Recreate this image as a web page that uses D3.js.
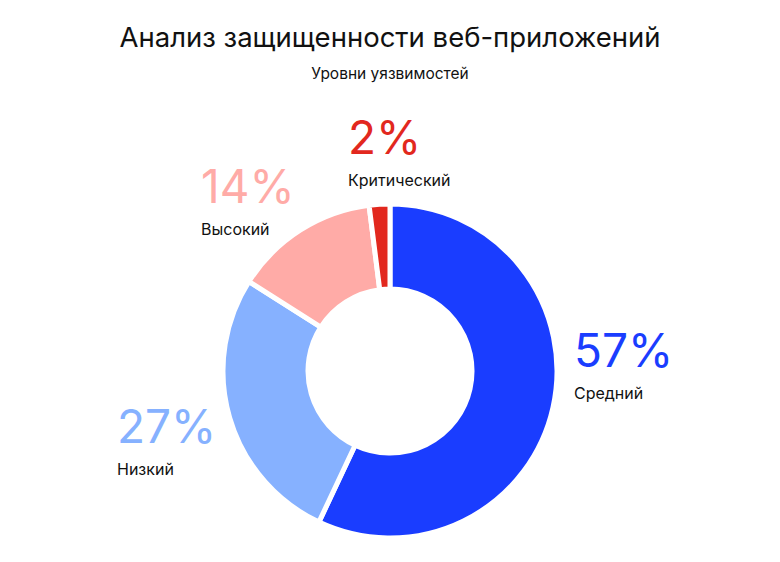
<!DOCTYPE html>
<html><head><meta charset="utf-8">
<script src="https://cdn.jsdelivr.net/npm/d3@7"></script>
<style>body{margin:0;background:#fff}svg{display:block}</style>
</head><body>
<svg id="c" width="780" height="562"></svg>
<script>
const categories = ["Средний", "Низкий", "Высокий", "Критический"];
const values = [57, 27, 14, 2];
const colors = ["#1a3dff", "#86b1ff", "#ffaba7", "#e2281e"];
const title = "Анализ защищенности веб-приложений";
const subtitle = "Уровни уязвимостей";

const svg = d3.select("#c");
const W = 780, cx = 390, cy = 371, R = 167, r = 82;
const font = "Inter, 'Noto Sans', sans-serif";

svg.append("text").attr("x", W/2).attr("y", 47).attr("text-anchor","middle")
  .attr("font-family", font).attr("font-size", 27.5).attr("font-weight", 400).attr("fill","#111")
  .text(title);
svg.append("text").attr("x", W/2).attr("y", 79).attr("text-anchor","middle")
  .attr("font-family", font).attr("font-size", 15.5).attr("fill","#111")
  .text(subtitle);

const data = categories.map((c,i)=>({cat:c, value:values[i], color:colors[i]}));
const pie = d3.pie().value(d=>d.value).sort(null);
const arc = d3.arc().innerRadius(r).outerRadius(R);
const g = svg.append("g").attr("transform", `translate(${cx},${cy})`);
g.selectAll("path").data(pie(data)).join("path")
  .attr("d", arc).attr("fill", d=>d.data.color)
  .attr("stroke", "#fff").attr("stroke-width", 5).attr("stroke-linejoin","miter");

// label positions (left x, numeral baseline)
const labelPos = [[574, 367], [117, 443], [201, 203], [348, 154]];
const lg = svg.append("g");
data.forEach((d,i)=>{
  const [x,y] = labelPos[i];
  lg.append("text").attr("x", x).attr("y", y)
    .attr("font-family", font).attr("font-size", 46).attr("font-weight", 400)
    .attr("fill", d.color).text(d.value + "%");
  lg.append("text").attr("x", x).attr("y", y + 32)
    .attr("font-family", font).attr("font-size", 16).attr("fill", "#111")
    .text(d.cat);
});
</script>
</body></html>
